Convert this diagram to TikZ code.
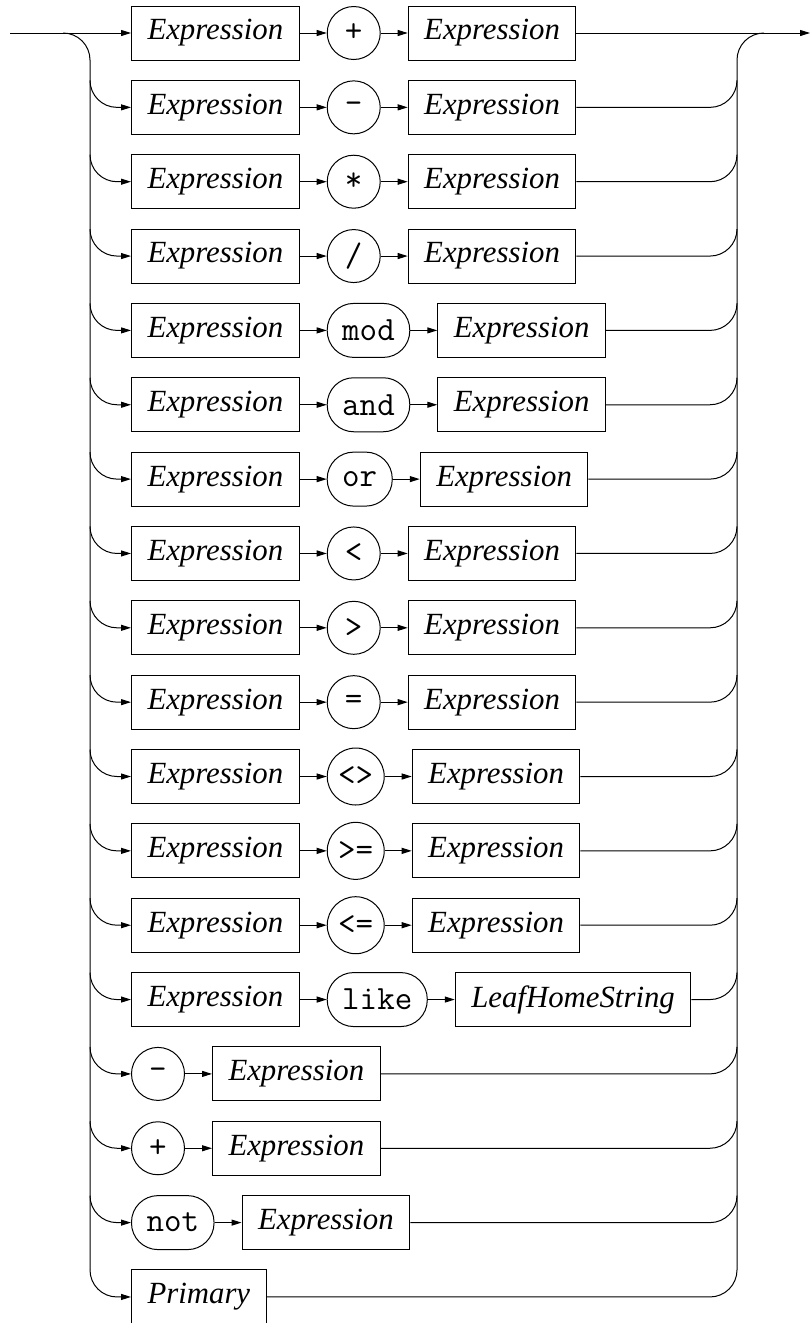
\documentclass[tikz,border=0pt]{standalone}
\usepackage{fontspec}
\setmainfont{Liberation Serif}
\usetikzlibrary{positioning,arrows.meta}
\newcommand{\rowY}[1]{\pgfmathsetmacro\Y{-(33+(#1-1)*74.35)}}
\newcommand{\lrail}[2]{%
  \coordinate (L#1) at (90,{\Y+27});
  \draw[arr] (L#1) arc[start angle=180,end angle=270,radius=27] -- (#2);}
\newcommand{\rrail}[2]{%
  \coordinate (R#1) at (710,\Y);
  \draw (#2) -- (R#1) arc[start angle=270,end angle=360,radius=27];}
\newcommand{\binrow}[4]{%
  \rowY{#1}
  \node[nt,anchor=west] (a#1) at (131,\Y) {Expression};
  \node[#2,right=27pt of a#1] (o#1) {#3};
  \node[nt,right=27pt of o#1] (b#1) {#4};
  \draw[arr] (a#1) -- (o#1);
  \draw[arr] (o#1) -- (b#1);}
\newcommand{\unrow}[3]{%
  \rowY{#1}
  \node[#2,anchor=west] (o#1) at (131,\Y) {#3};
  \node[nt,right=27pt of o#1] (b#1) {Expression};
  \draw[arr] (o#1) -- (b#1);
  \lrail{#1}{o#1}\rrail{#1}{b#1}}
\begin{document}
\begin{tikzpicture}[x=1pt,y=1pt,line width=1pt,
  nt/.style={draw,rectangle,minimum height=54pt,inner xsep=16pt,inner ysep=0pt,
    font=\fontsize{30.8pt}{36pt}\selectfont\itshape},
  opc/.style={draw,circle,minimum size=53pt,inner sep=0pt,
    font=\fontsize{34pt}{38pt}\selectfont\ttfamily},
  opr/.style={draw,rectangle,rounded corners=26.5pt,minimum height=54pt,inner xsep=15pt,inner ysep=0pt,
    font=\fontsize{34pt}{38pt}\selectfont\ttfamily},
  arr/.style={-{Triangle[length=10pt,width=6pt]}}]
\useasboundingbox (0,0) rectangle (811,-1323);
% row 1
\binrow{1}{opc}{+}{Expression}
\coordinate (in) at (10,\Y);
\coordinate (out) at (810,\Y);
\coordinate (TL) at (63,\Y);
\coordinate (TR) at (764,\Y);
\draw[arr] (in) -- (a1);
\draw[arr] (b1) -- (out);
% binary rows
\binrow{2}{opc}{-}{Expression}\lrail{2}{a2}\rrail{2}{b2}
\binrow{3}{opc}{*}{Expression}\lrail{3}{a3}\rrail{3}{b3}
\binrow{4}{opc}{/}{Expression}\lrail{4}{a4}\rrail{4}{b4}
\binrow{5}{opr}{mod}{Expression}\lrail{5}{a5}\rrail{5}{b5}
\binrow{6}{opr}{and}{Expression}\lrail{6}{a6}\rrail{6}{b6}
\binrow{7}{opr}{or}{Expression}\lrail{7}{a7}\rrail{7}{b7}
\binrow{8}{opc}{<}{Expression}\lrail{8}{a8}\rrail{8}{b8}
\binrow{9}{opc}{>}{Expression}\lrail{9}{a9}\rrail{9}{b9}
\binrow{10}{opc}{=}{Expression}\lrail{10}{a10}\rrail{10}{b10}
\binrow{11}{opc,minimum size=57pt}{<>}{Expression}\lrail{11}{a11}\rrail{11}{b11}
\binrow{12}{opc,minimum size=57pt}{>=}{Expression}\lrail{12}{a12}\rrail{12}{b12}
\binrow{13}{opc,minimum size=57pt}{<=}{Expression}\lrail{13}{a13}\rrail{13}{b13}
\binrow{14}{opr}{like}{LeafHomeString}\lrail{14}{a14}\rrail{14}{b14}
% unary rows
\unrow{15}{opc}{-}
\unrow{16}{opc}{+}
\unrow{17}{opr}{not}
% primary
\rowY{18}
\node[nt,anchor=west] (p18) at (131,\Y) {Primary};
\lrail{18}{p18}\rrail{18}{p18}
\coordinate (RB) at (737,{\Y+27});
% rails
\draw (TL) arc[start angle=90,end angle=0,radius=27] -- (L18);
\draw (TR) arc[start angle=90,end angle=180,radius=27] -- (RB);
\end{tikzpicture}
\end{document}
